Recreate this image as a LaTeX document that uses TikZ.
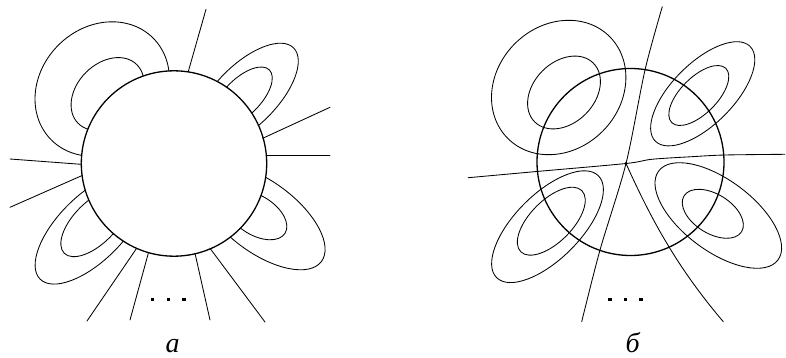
\documentclass[tikz,border=0pt]{standalone}
\usepackage{fontspec}
\setmainfont{Liberation Serif}
\newcommand\drawloops{%
  \draw[curve, rotate around={45:(558.7,87.5)}] (558.7,87.5) ellipse [x radius=72, y radius=62];
  \draw[curve, rotate around={45:(564,92.5)}] (564,92.5) ellipse [x radius=41.5, y radius=30.5];
  \draw[curve, rotate around={45:(702.7,93.8)}] (702.7,93.8) ellipse [x radius=67, y radius=30.6];
  \draw[curve, rotate around={45:(698.8,95.5)}] (698.8,95.5) ellipse [x radius=38.3, y radius=18.2];
  \draw[curve, rotate around={45:(547.5,226.7)}] (547.5,226.7) ellipse [x radius=72, y radius=32.6];
  \draw[curve, rotate around={45:(551.3,221.2)}] (551.3,221.2) ellipse [x radius=43.2, y radius=21];
  \draw[curve, rotate around={-36.7:(718.3,215.5)}] (718.3,215.5) ellipse [x radius=74.4, y radius=35.5];
  \draw[curve, rotate around={-32:(712.8,213.8)}] (712.8,213.8) ellipse [x radius=33.9, y radius=19.6];
}
\begin{document}
\begin{tikzpicture}[x=1pt,y=-1pt, line join=round, line cap=round,
  rim/.style={line width=1.3pt},
  curve/.style={line width=0.85pt},
  dotsq/.style={fill=black, rectangle, minimum size=3.4pt, inner sep=0pt},
  lbl/.style={anchor=base, inner sep=0pt, font=\itshape\fontsize{28}{28}\selectfont}]
\useasboundingbox (0,0) rectangle (786,358);

% ---------------- panel a ----------------
\coordinate (ca) at (174,163.5);
% loops: the same ovals as in panel b, seen only outside the circle
\begin{scope}[shift={(-456.5,1.5)}]
  \drawloops
\end{scope}
\fill[white] (ca) circle [radius=92.7];
\draw[rim] (ca) circle [radius=92.7];
% radial lines
\draw[curve] (188.3,71.5) -- (206,9.3);
\draw[curve] (262.7,138.3) -- (330,107.3);
\draw[curve] (266.7,155.7) -- (330,155.7);
\draw[curve] (81,164.3) -- (10,159);
\draw[curve] (81.7,175.7) -- (10,207.3);
\draw[curve] (136.5,248.5) -- (87,321);
\draw[curve] (148.3,253.3) -- (130,320);
\draw[curve] (195,253.3) -- (210,320);
\draw[curve] (210,248.3) -- (265,322);
% dots and label
\node[dotsq] (da1) at (152.7,299.3) {};
\node[dotsq] (da2) at (168.3,299.3) {};
\node[dotsq] (da3) at (184,299.3) {};
\node[lbl] (la) at (172.7,352.5) {а};

% ---------------- panel b ----------------
\coordinate (cb) at (630.5,162);
\coordinate (P) at (626,163.5);
\coordinate (Ptop) at (662.3,6.7);
\coordinate (Pbl) at (581.7,321.7);
\coordinate (Pbr) at (723.3,321.7);
\coordinate (Pl) at (468.3,177.7);
\coordinate (Pr) at (785,154.3);
\drawloops
\draw[rim] (cb) circle [radius=93.5];
% lines through P
\draw[curve] plot[smooth] coordinates {(Ptop) (645,70) (P) (600,250) (Pbl)};
\draw[curve] (P) .. controls (650.8,218.5) and (676.5,266.7) .. (Pbr);
\draw[curve] plot[smooth] coordinates {(Pl) (536.7,171.5) (P) (651.7,159.3) (691.7,156.7) (725,155) (Pr)};
\fill (P) circle [radius=1.7];
% dots and label
\node[dotsq] (db1) at (610,299.3) {};
\node[dotsq] (db2) at (625.7,299.3) {};
\node[dotsq] (db3) at (641,299.3) {};
\node[lbl] (lb) at (632.7,352.5) {б};
\end{tikzpicture}
\end{document}
